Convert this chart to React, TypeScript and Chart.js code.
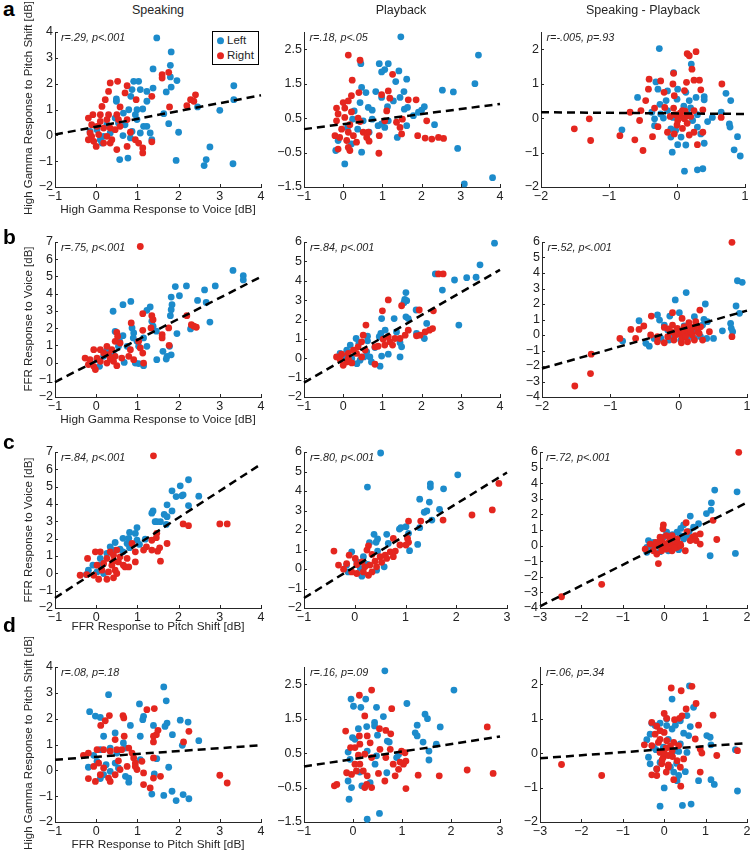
import React, { useEffect, useRef } from 'react';
import { Chart, registerables } from 'chart.js';
Chart.register(...registerables);

const BLUE = '#1c8bcb';
const RED = '#e4261f';
const INK = '#262626';
const FONT = '"Liberation Sans", Arial, sans-serif';

// ---------- tick values ----------
const xTicksWide = [-1, 0, 1, 2, 3, 4];
const xTicksShort = [-1, 0, 1, 2, 3];
const xTicksDiffA = [-2, -1, 0, 1];
const xTicksDiffB = [-3, -2, -1, 0, 1, 2];
const yTicksHG = [-2, -1, 0, 1, 2, 3, 4];
const yTicksHGPlay = [-1.5, -0.5, 0.5, 1.5, 2.5];
const yTicksHGDiff = [-2, -1, 0, 1, 2];
const yTicksFFR7 = [-2, -1, 0, 1, 2, 3, 4, 5, 6, 7];
const yTicksFFR6 = [-2, -1, 0, 1, 2, 3, 4, 5, 6];
const yTicksFFRDiff = [-4, -3, -2, -1, 0, 1, 2, 3, 4, 5, 6];

const columnTitles = ['Speaking', 'Playback', 'Speaking - Playback'];
const rowLetters = ['a', 'b', 'c', 'd'];
const xTitles = ['High Gamma Response to Voice [dB]', 'High Gamma Response to Voice [dB]', 'FFR Response to Pitch Shift [dB]', 'FFR Response to Pitch Shift [dB]'];
const yTitles = ['High Gamma Response to Pitch Shift [dB]', 'FFR Response to Voice [dB]', 'FFR Response to Voice [dB]', 'High Gamma Response to Pitch Shift [dB]'];
const statLabels = [
  'r=.29, p<.001', 'r=.18, p<.05', 'r=-.005, p=.93',
  'r=.75, p<.001', 'r=.84, p<.001', 'r=.52, p<.001',
  'r=.84, p<.001', 'r=.80, p<.001', 'r=.72, p<.001',
  'r=.08, p=.18', 'r=.16, p=.09', 'r=.06, p=.34',
];

// ---------- row a ----------
const a1Left = [[1.47,3.77],[1.82,3.23],[1.80,2.71],[1.38,2.57],[1.80,2.26],[1.96,2.12],[1.82,1.87],[1.70,1.68],[1.38,1.83],[3.34,1.92],[3.34,1.38],[3.0,0.97],[2.46,1.10],[2.00,0.12],[1.94,-0.97],[2.76,-0.45],[2.67,-0.94],[2.62,-1.17],[3.32,-1.10],[1.76,0.45],[1.64,0.84],[1.03,2.09],[0.91,2.09],[0.87,1.77],[1.07,1.77],[0.49,1.41],[0.49,1.32],[0.84,1.51],[1.23,1.70],[1.23,1.32],[1.13,1.02],[0.99,0.99],[0.79,0.99],[0.66,0.86],[0.46,0.67],[0.54,0.48],[0.70,0.41],[0.87,0.15],[1.07,0.09],[1.23,0.35],[1.35,-0.17],[1.31,0.09],[0.34,0.09],[0.18,-0.04],[0.02,0.22],[-0.15,0.15],[0.10,-0.17],[0.26,0.41],[0.65,-0.01],[0.83,-0.10],[0.77,-0.88],[0.57,-0.94],[0.95,0.80],[1.15,0.35],[0.99,0.61],[0.14,-0.30]];
const a1Right = [[1.76,2.44],[1.60,2.35],[1.60,2.22],[1.35,1.51],[1.78,1.10],[2.41,1.57],[2.29,1.38],[2.37,1.32],[2.20,1.15],[0.52,2.09],[0.34,2.03],[0.75,1.92],[0.30,1.70],[0.70,1.64],[0.97,1.38],[0.22,1.38],[0.14,1.12],[0.58,1.10],[-0.19,0.67],[-0.08,0.80],[0.10,0.80],[0.30,0.80],[0.50,0.80],[0.54,0.61],[0.10,0.54],[0.26,0.61],[-0.11,0.41],[0.02,0.35],[0.18,0.28],[0.34,0.28],[0.46,0.22],[-0.11,-0.04],[0.06,0.03],[0.26,-0.04],[-0.06,-0.23],[0.0,-0.43],[0.18,-0.30],[0.38,-0.17],[0.50,-0.55],[0.75,-0.43],[0.95,-0.17],[1.03,-0.30],[1.13,-0.49],[1.13,-0.68],[1.35,-0.25],[0.83,0.12],[0.34,-0.30],[-0.19,-0.17],[-0.15,0.09],[0.58,0.35],[0.75,0.61]];
const a1Fit = [[-1,0.03],[4,1.55]];

const a2Left = [[1.47,2.86],[3.45,2.33],[3.36,1.50],[0.45,2.08],[0.92,2.08],[1.15,2.08],[1.06,1.91],[0.98,1.84],[1.42,1.87],[1.34,1.56],[1.62,1.63],[0.83,1.27],[0.58,1.24],[0.47,1.39],[0.98,1.10],[1.28,1.00],[1.45,1.10],[1.55,1.27],[2.53,1.31],[2.81,1.26],[0.43,0.95],[0.64,0.81],[0.74,0.73],[1.13,0.83],[1.56,0.76],[1.64,0.81],[2.07,0.83],[2.00,0.73],[1.92,0.67],[1.79,0.57],[2.33,0.31],[1.62,0.28],[1.38,-0.06],[2.92,-0.38],[3.09,-1.41],[3.81,-1.23],[0.04,-0.83],[-0.19,-0.44],[0.21,-0.25],[0.47,-0.49],[0.28,0.71],[0.24,0.47],[0.51,0.42],[0.74,0.47],[0.89,0.28],[1.06,0.23],[0.37,0.18],[0.11,0.23],[0.66,0.09],[-0.13,-0.15],[0.98,0.33],[1.15,0.42]];
const a2Right = [[0.13,2.33],[0.43,2.18],[0.23,1.60],[0.40,1.24],[0.21,1.15],[0.13,1.00],[0.0,0.95],[-0.17,0.79],[0.04,0.79],[0.21,0.68],[-0.13,0.62],[0.04,0.52],[-0.17,0.42],[0.38,0.50],[0.43,0.40],[0.17,0.31],[-0.04,0.18],[0.13,0.09],[-0.21,-0.01],[-0.09,-0.06],[0.09,-0.15],[0.26,-0.01],[0.34,-0.20],[-0.13,-0.40],[0.13,-0.35],[0.17,-0.44],[0.64,0.09],[0.60,-0.06],[0.51,0.09],[0.98,1.18],[1.15,1.29],[1.26,1.77],[1.19,1.08],[1.66,1.03],[1.86,1.03],[0.92,-0.01],[1.06,0.42],[1.11,0.71],[1.36,0.38],[1.45,0.23],[1.51,0.47],[1.49,0.04],[0.91,-0.52],[1.90,-0.01],[2.09,-0.08],[2.26,-0.11],[2.43,-0.06],[2.56,-0.09],[2.13,0.42],[0.66,-0.17]];
const a2Fit = [[-1,0.18],[4,0.91]];

const a3Left = [[-0.26,2.02],[0.21,1.57],[-0.05,1.32],[-0.31,1.05],[-0.58,0.60],[-0.28,0.84],[-0.14,0.79],[0.01,0.84],[0.13,0.75],[0.28,0.60],[0.40,0.62],[0.40,0.53],[0.72,0.72],[0.79,0.51],[0.65,0.17],[0.52,0.02],[0.77,-0.17],[0.78,-0.26],[0.89,-0.54],[0.84,-0.92],[0.93,-1.10],[0.30,-0.26],[0.35,-0.46],[0.40,-0.73],[0.30,-1.50],[0.38,-1.47],[0.11,-1.54],[-0.07,-0.99],[0.01,-0.77],[0.13,-0.78],[-0.09,-0.55],[0.06,-0.55],[-0.81,-0.34],[-0.37,0.17],[-0.33,-0.02],[-0.24,0.12],[-0.14,0.22],[-0.06,0.02],[0.16,0.12],[0.23,-0.07],[0.18,0.51],[-0.16,0.51],[-0.09,-0.31],[-0.33,-0.22],[-0.20,0.00],[0.30,0.10],[0.10,0.35],[-0.25,0.40],[0.00,0.55],[0.20,0.30],[0.45,-0.10],[-0.02,-0.35]];
const a3Right = [[0.15,1.87],[0.18,1.81],[0.28,1.93],[0.22,1.42],[-0.05,1.30],[-0.41,1.13],[-0.24,1.08],[-0.06,0.99],[0.14,1.04],[0.25,1.10],[0.33,1.10],[0.66,0.99],[-0.42,0.84],[-0.19,0.75],[-0.04,0.65],[0.11,0.80],[0.35,0.82],[-0.46,0.51],[-0.33,0.29],[-0.18,0.31],[-0.05,0.29],[0.08,0.22],[0.25,0.22],[0.38,0.24],[0.65,0.02],[-0.69,0.17],[-0.53,0.22],[-0.55,-0.07],[0.05,0.07],[0.01,-0.07],[0.11,-0.02],[0.16,0.07],[-0.28,-0.25],[-0.14,-0.41],[-0.04,-0.46],[0.18,-0.49],[0.25,-0.41],[-0.36,-0.54],[-1.51,-0.31],[-1.29,-0.02],[-1.27,-0.65],[-0.84,-0.51],[-0.62,-0.63],[-0.50,-0.94],[0.30,-0.77],[0.38,-0.41],[0.05,0.15],[0.10,0.00],[-0.02,0.10],[0.12,0.20],[0.20,0.05],[-0.10,0.05],[0.00,-0.20],[0.08,-0.30],[0.15,-0.15]];
const a3Fit = [[-2,0.17],[1,0.12]];

// ---------- row b ----------
const b1Left = [[3.32,5.35],[3.57,5.04],[3.57,4.80],[2.89,4.45],[2.63,4.22],[2.19,4.45],[1.92,4.41],[2.02,3.88],[1.82,3.80],[0.84,3.55],[0.65,3.36],[0.41,2.98],[1.31,3.23],[1.23,3.03],[1.84,3.36],[1.82,3.07],[1.80,2.72],[2.46,3.61],[2.67,3.49],[2.76,2.35],[2.29,1.95],[1.96,1.68],[1.35,2.40],[1.38,2.11],[1.46,1.82],[0.87,2.01],[0.91,1.72],[0.90,1.43],[0.99,1.23],[1.15,1.43],[1.03,0.94],[1.23,0.94],[0.65,1.56],[0.46,1.81],[0.57,1.23],[0.75,0.94],[1.78,0.94],[1.62,0.65],[1.72,0.36],[1.82,0.45],[1.70,0.20],[1.47,0.17],[0.95,-0.03],[1.03,-0.06],[1.15,-0.18],[0.68,0.01],[0.26,0.75],[0.18,0.36],[0.02,0.17],[0.08,-0.22],[0.42,0.46],[0.54,0.94]];
const b1Right = [[1.07,6.74],[1.13,2.84],[1.35,2.72],[2.20,2.72],[2.31,2.20],[2.37,2.11],[2.43,2.05],[0.85,2.30],[0.50,1.75],[0.52,1.52],[1.76,2.01],[1.60,1.62],[1.60,1.43],[1.13,1.87],[1.33,2.01],[1.38,2.49],[1.77,1.00],[1.03,1.23],[1.07,0.85],[0.83,0.75],[0.58,1.13],[0.46,1.23],[0.38,0.75],[0.26,0.94],[0.10,0.75],[-0.06,0.75],[0.18,0.56],[0.30,0.46],[0.46,0.36],[0.62,0.26],[0.02,0.26],[-0.15,0.17],[0.10,0.07],[0.26,-0.03],[-0.19,-0.12],[-0.06,-0.22],[-0.02,-0.41],[0.50,-0.18],[1.15,-0.03],[1.13,0.55],[0.42,0.07],[0.79,0.36],[0.91,0.17],[0.34,0.20],[-0.27,0.26]];
const b1Fit = [[-1,-1.13],[4,4.98]];

const b2Left = [[3.86,5.94],[3.49,4.82],[3.39,4.18],[3.15,4.16],[2.84,4.04],[2.35,4.35],[2.53,3.52],[2.95,1.71],[1.60,3.39],[1.57,3.04],[1.62,2.97],[1.55,2.87],[1.30,2.05],[1.60,2.14],[1.66,2.05],[1.86,2.49],[0.98,2.05],[0.96,1.28],[1.07,1.45],[1.36,1.36],[0.92,1.11],[0.62,1.14],[0.62,0.90],[0.33,1.02],[0.40,0.77],[0.18,0.68],[0.09,0.42],[-0.08,0.25],[0.05,0.07],[0.22,-0.01],[0.43,-0.10],[0.53,0.07],[0.68,0.07],[0.60,0.33],[0.72,-0.19],[0.94,-0.41],[0.98,0.11],[1.15,0.21],[1.45,0.07],[1.49,0.59],[1.45,0.80],[1.87,1.28],[2.07,1.02],[2.13,1.80],[0.81,0.55],[0.35,-0.28]];
const b2Right = [[2.43,4.35],[2.55,4.35],[1.15,3.01],[1.49,2.71],[1.00,2.45],[1.94,2.49],[2.30,2.45],[2.28,1.53],[2.20,1.45],[2.09,1.36],[1.87,1.16],[1.96,1.19],[1.66,1.45],[1.58,1.19],[1.45,1.02],[1.32,1.02],[0.58,1.71],[0.51,1.19],[1.15,1.11],[1.02,0.98],[1.19,0.85],[1.26,0.68],[1.06,0.68],[0.89,0.62],[0.81,0.59],[0.47,0.85],[0.38,0.59],[0.56,0.42],[0.26,0.42],[0.34,0.25],[0.13,0.25],[-0.04,0.21],[-0.17,0.07],[-0.08,-0.07],[0.09,-0.19],[0.22,-0.24],[0.00,-0.36],[0.47,0.07],[0.81,-0.31],[0.13,-0.01]];
const b2Fit = [[-1,-1.26],[4,4.56]];

const b3Left = [[0.86,3.50],[0.93,3.40],[0.11,2.74],[-0.05,2.26],[0.39,2.00],[0.84,1.87],[0.89,1.40],[0.76,0.75],[0.77,0.43],[0.79,0.21],[0.64,0.27],[0.01,1.44],[-0.13,1.22],[-0.31,1.29],[-0.28,0.96],[-0.58,0.92],[0.23,1.18],[0.37,1.01],[0.42,0.86],[-0.82,-0.39],[-0.48,-0.54],[-0.43,-0.72],[-0.36,-0.22],[-0.26,-0.22],[-0.14,-0.33],[-0.07,-0.11],[0.03,-0.33],[0.13,-0.22],[0.23,-0.22],[0.32,-0.11],[0.41,-0.22],[0.51,-0.22],[0.35,0.64],[0.08,0.58],[-0.21,0.64],[-0.16,0.32],[0.20,0.32]];
const b3Right = [[0.78,5.98],[-1.52,-3.29],[-1.29,-2.49],[-1.28,-1.24],[-0.86,-0.22],[-0.70,0.36],[-0.63,-0.22],[-0.58,0.36],[-0.51,0.58],[-0.40,1.22],[-0.31,-0.44],[-0.41,0.0],[-0.09,1.44],[0.05,1.07],[0.31,1.61],[0.45,0.21],[0.78,-0.11],[-0.21,0.49],[-0.09,0.64],[-0.02,0.43],[0.08,0.53],[0.15,0.64],[0.25,0.86],[0.32,0.53],[-0.11,0.21],[-0.02,0.06],[0.05,0.10],[0.13,0.15],[0.20,0.0],[0.28,0.21],[-0.16,-0.11],[-0.07,-0.33],[0.04,-0.50],[0.13,-0.44],[0.23,-0.33],[0.35,-0.33],[-0.21,-0.50],[-0.31,-0.11],[0.20,0.49],[0.00,0.30],[0.10,0.40],[0.18,0.25],[-0.05,0.00],[0.05,-0.20],[0.25,0.60],[0.15,0.80],[-0.15,0.40],[0.30,0.10],[0.10,-0.10]];
const b3Fit = [[-2,-2.16],[1,1.57]];

// ---------- row c ----------
const c1Left = [[2.24,5.40],[2.04,5.05],[2.11,4.53],[2.08,4.47],[1.84,4.76],[2.49,4.45],[2.24,3.91],[1.94,4.43],[1.72,3.95],[1.38,3.60],[1.35,3.47],[1.43,2.98],[1.47,2.98],[1.56,2.98],[1.65,3.40],[1.72,3.27],[1.84,3.60],[1.70,2.82],[0.99,2.64],[0.95,2.30],[0.81,2.36],[0.79,2.02],[0.65,2.02],[0.46,1.78],[0.75,1.72],[0.34,1.53],[0.99,1.91],[0.58,1.40],[0.46,1.34],[0.26,1.15],[0.10,0.86],[-0.19,0.18],[-0.08,0.47],[0.10,0.47],[-0.24,-0.07],[0.02,0.08],[0.18,-0.01],[0.65,1.24],[1.05,1.67],[1.19,1.97],[0.81,1.48]];
const c1Right = [[1.39,6.78],[2.11,2.85],[2.24,2.75],[3.00,2.85],[3.18,2.85],[1.47,2.31],[1.46,2.06],[1.35,1.91],[1.72,1.72],[1.54,1.47],[1.49,1.28],[1.56,0.70],[1.22,1.53],[1.15,1.34],[1.35,1.34],[0.87,1.72],[0.95,1.24],[0.95,0.66],[0.50,1.34],[0.34,1.24],[0.10,1.24],[-0.02,1.24],[-0.21,0.86],[0.26,0.86],[0.42,1.05],[0.58,0.95],[0.75,0.86],[0.54,0.66],[0.66,0.47],[0.38,0.47],[0.18,0.57],[0.02,0.47],[0.14,0.18],[0.30,0.08],[0.46,0.18],[-0.39,-0.11],[-0.23,-0.07],[-0.06,-0.11],[0.06,-0.34],[0.26,-0.34],[0.42,-0.26],[0.50,-0.01],[0.70,0.37],[0.79,0.37],[0.42,0.70]];
const c1Fit = [[-1,-1.42],[4,6.3]];

const c2Left = [[0.51,5.95],[0.25,4.20],[2.03,4.83],[1.49,4.37],[1.49,4.20],[1.75,4.11],[1.28,3.58],[1.47,3.43],[1.42,2.98],[1.37,2.91],[1.67,3.06],[1.52,2.51],[0.91,2.12],[0.88,2.05],[1.01,2.17],[1.28,2.12],[1.06,1.83],[0.63,1.78],[0.38,1.78],[0.45,1.54],[0.42,1.37],[0.29,1.35],[0.45,0.92],[1.24,1.26],[1.08,0.94],[0.66,1.31],[-0.06,0.88],[0.17,0.63],[0.04,0.37],[-0.16,0.20],[0.11,0.03],[0.43,-0.06],[0.14,-0.37],[0.58,0.11],[0.25,0.23],[-0.13,-0.15]];
const c2Right = [[2.84,4.39],[2.31,2.77],[2.71,3.03],[1.74,2.51],[1.30,2.46],[1.06,2.46],[1.04,1.57],[1.06,1.37],[1.01,1.23],[0.89,1.23],[0.76,1.57],[-0.41,0.92],[-0.32,0.20],[-0.16,0.28],[-0.11,0.71],[0.01,0.54],[0.04,0.23],[0.14,0.37],[0.20,0.11],[0.30,0.20],[0.40,0.40],[0.50,0.63],[0.60,0.71],[0.70,0.88],[0.80,0.92],[0.63,0.54],[0.76,0.63],[0.53,0.34],[0.27,1.19],[0.34,0.75],[-0.06,-0.15],[0.04,-0.23],[0.27,-0.32],[0.34,-0.15],[0.43,0.11],[0.17,-0.15],[-0.22,-0.01],[0.24,0.97]];
const c2Fit = [[-1,-1.49],[3,4.95]];

const c3Left = [[1.22,3.56],[1.76,3.45],[1.14,2.74],[1.13,2.27],[1.02,2.05],[0.63,1.89],[0.83,1.40],[0.47,1.33],[0.71,1.18],[1.72,-0.50],[1.11,-0.65],[0.06,0.86],[0.31,0.86],[0.39,0.64],[0.55,0.64],[-0.38,0.32],[-0.26,0.21],[-0.10,0.32],[-0.02,0.54],[0.15,0.43],[0.27,0.32],[0.47,0.43],[-0.42,-0.11],[-0.30,-0.22],[-0.10,-0.39],[0.10,-0.33],[0.35,-0.26],[0.23,0.0],[-0.42,-0.43],[0.40,1.10],[0.20,0.70],[0.60,0.90]];
const c3Right = [[1.80,5.98],[1.18,1.62],[1.27,0.39],[0.87,0.10],[0.87,0.75],[0.77,0.32],[0.69,0.54],[0.53,1.47],[-0.02,1.33],[-0.03,1.08],[-0.14,-1.15],[-1.51,-2.48],[-2.48,-3.28],[-0.46,-0.22],[-0.34,0.10],[-0.22,0.0],[-0.26,-0.33],[-0.18,-0.54],[-0.06,0.32],[0.05,0.64],[0.10,0.10],[0.19,0.64],[0.31,0.43],[0.39,0.10],[0.51,-0.33],[0.31,-0.11],[0.19,-0.33],[0.06,-0.22],[-0.06,-0.33],[0.55,0.90],[0.63,0.32],[0.75,0.64],[-0.10,0.54],[0.00,0.10],[0.10,0.20],[0.20,0.00],[-0.10,0.00],[0.15,0.35],[0.30,0.20],[0.05,-0.10],[-0.20,0.20],[0.25,-0.15],[0.40,0.00]];
const c3Fit = [[-3,-3.89],[2,2.76]];

// ---------- row d ----------
const d1Left = [[1.64,3.23],[0.30,2.93],[1.70,2.69],[1.05,2.57],[-0.16,2.27],[-0.02,2.10],[0.10,2.05],[1.15,2.09],[1.13,1.96],[2.04,1.94],[2.23,1.87],[1.72,1.83],[1.67,1.70],[1.39,1.74],[0.83,1.74],[1.85,1.38],[1.07,1.32],[0.46,1.45],[0.18,1.32],[2.49,1.15],[2.09,0.97],[0.10,0.80],[0.34,0.86],[0.66,1.06],[0.71,0.86],[0.50,0.67],[-0.06,0.58],[-0.19,0.12],[0.02,0.35],[0.24,0.22],[0.46,0.28],[1.07,0.41],[1.47,0.45],[1.76,0.12],[1.41,-0.14],[0.10,-0.32],[0.71,-0.23],[0.79,-0.30],[0.79,-0.46],[1.35,-0.92],[1.64,-0.97],[1.84,-0.81],[1.94,-1.17],[2.11,-0.94],[2.25,-1.10],[0.34,-0.04],[0.18,-0.17],[0.54,0.09]];
const d1Right = [[1.23,2.35],[1.41,2.39],[0.32,2.12],[0.65,2.12],[0.67,2.03],[0.22,1.92],[0.11,1.74],[1.50,1.55],[1.46,1.38],[1.39,1.32],[2.25,1.51],[2.12,1.10],[1.39,1.10],[0.46,1.19],[0.68,1.32],[-0.31,0.58],[-0.19,0.67],[0.02,0.80],[0.18,0.80],[0.34,0.74],[0.50,0.80],[0.62,0.80],[0.79,0.86],[0.87,0.67],[0.91,0.48],[0.95,0.28],[1.11,0.35],[0.99,0.03],[0.95,0.15],[1.39,0.48],[1.39,-0.30],[1.56,-0.23],[1.15,-0.10],[1.15,-0.55],[1.31,-0.68],[-0.19,-0.32],[-0.02,-0.43],[0.10,-0.17],[0.18,0.09],[0.30,-0.30],[0.34,-0.43],[0.46,-0.17],[0.54,0.37],[0.58,0.03],[-0.06,0.15],[0.06,0.28],[3.00,-0.19],[3.18,-0.49],[0.75,0.15]];
const d1Fit = [[-1,0.41],[4,0.97]];

const d2Left = [[0.65,2.89],[2.06,2.33],[-0.04,2.07],[0.26,2.07],[0.01,1.86],[0.16,1.83],[0.48,1.83],[1.10,1.94],[0.62,1.56],[1.47,1.63],[1.52,1.50],[1.78,1.26],[1.31,1.31],[1.27,1.09],[1.31,1.00],[1.43,0.82],[1.70,0.76],[1.55,0.56],[1.55,0.30],[0.44,1.39],[0.44,1.29],[0.28,1.27],[0.11,1.21],[0.50,1.02],[0.70,0.85],[0.74,0.82],[-0.01,0.95],[0.04,0.90],[-0.10,0.53],[-0.06,0.32],[0.29,0.56],[0.48,0.42],[0.89,0.37],[0.93,0.46],[0.69,-0.07],[-0.10,-0.31],[-0.03,-0.50],[0.18,-0.45],[0.35,-0.36],[-0.08,-0.84],[0.54,-1.25],[0.29,-1.42],[0.14,-0.05],[0.45,0.18]];
const d2Right = [[0.38,2.33],[0.13,2.18],[0.24,1.58],[-0.15,1.14],[0.13,1.00],[0.29,1.00],[0.54,1.21],[0.67,1.16],[0.79,1.79],[0.77,1.06],[0.14,0.76],[0.35,0.80],[-0.05,0.66],[0.04,0.66],[0.11,0.44],[0.24,0.47],[0.38,0.37],[0.55,0.61],[0.76,0.61],[0.67,0.37],[0.82,0.18],[0.99,0.56],[1.06,0.51],[1.08,0.27],[1.03,0.18],[0.93,0.03],[0.04,0.18],[0.14,0.18],[-0.13,-0.07],[-0.03,-0.12],[0.07,-0.02],[0.21,-0.02],[0.29,-0.16],[0.52,-0.09],[0.65,-0.31],[0.86,-0.16],[0.28,-0.41],[0.38,-0.50],[0.24,-0.50],[-0.33,-0.41],[-0.38,-0.45],[1.08,-0.53],[1.33,-0.14],[1.76,-0.16],[2.33,0.01],[2.86,-0.09],[2.74,1.26],[0.96,0.24]];
const d2Fit = [[-1,0.11],[3,0.98]];

const d3Left = [[0.61,1.95],[0.19,1.57],[0.71,1.33],[0.55,1.09],[0.39,0.94],[0.27,0.81],[0.19,0.70],[0.63,0.77],[0.59,0.51],[0.47,0.58],[1.03,0.51],[1.11,0.46],[1.13,0.24],[-0.42,0.39],[-0.34,0.55],[-0.22,0.80],[-0.30,0.87],[-0.10,0.87],[0.06,0.99],[0.06,0.80],[1.72,0.10],[-0.38,-0.12],[-0.34,-0.31],[-0.18,-0.46],[-0.10,-0.27],[0.15,-0.41],[0.23,-0.55],[0.35,-0.65],[0.51,-0.54],[0.31,-0.80],[0.83,-0.80],[1.13,-0.77],[1.21,-0.91],[1.77,-1.10],[0.0,-1.01],[-0.10,-1.54],[0.44,-1.52],[0.65,-1.48],[-0.26,0.17],[-0.02,0.17],[0.23,0.07],[0.39,0.27],[0.55,0.02],[0.10,0.40],[-0.20,0.10],[0.30,-0.30],[0.35,0.05]];
const d3Right = [[0.17,1.89],[0.41,1.81],[0.67,1.94],[0.77,1.44],[1.18,1.10],[0.53,1.28],[0.43,1.08],[0.37,1.01],[0.0,1.15],[0.06,1.01],[0.25,0.97],[-0.30,0.89],[-0.18,0.78],[-0.10,0.65],[-0.22,0.55],[0.83,0.81],[0.75,0.41],[0.87,0.12],[0.91,0.0],[1.27,-0.07],[1.77,0.07],[-0.48,0.24],[-0.30,0.22],[-0.14,0.31],[0.06,0.36],[0.23,0.31],[0.35,0.22],[-0.10,0.02],[-0.02,-0.12],[0.10,-0.07],[0.19,0.07],[0.31,-0.22],[0.39,-0.41],[0.47,-0.17],[-0.06,-0.31],[-0.18,-0.46],[-0.30,-0.63],[-0.18,-0.65],[0.23,-0.77],[0.40,-0.96],[0.87,-0.55],[-2.48,-0.33],[-1.51,-0.65],[0.10,-0.34],[0.00,0.00],[0.05,0.15],[-0.05,-0.20],[0.10,-0.40],[0.15,0.20],[-0.10,0.40],[0.00,0.60],[0.20,-0.10],[0.05,-0.55]];
const d3Fit = [[-3,-0.15],[2,0.29]];

// ---------- panel table (built from arrays above) ----------
type Pt = number[];
interface Panel {
  left: Pt[]; right: Pt[]; fit: Pt[];
  xMin: number; xMax: number; yMin: number; yMax: number;
  xTicks: number[]; yTicks: number[];
  box: number[]; // plot area: left, top, right, bottom (px)
}
const rowTop = [32, 242, 452, 667];
const rowBottom = [187, 397, 607.5, 822];
const box = (l: number, r: number, row: number) => [l, rowTop[row], r, rowBottom[row]];

const panels: Panel[] = [
  { left: a1Left, right: a1Right, fit: a1Fit, xMin: -1, xMax: 4, yMin: -2, yMax: 4, xTicks: xTicksWide, yTicks: yTicksHG, box: box(55, 261, 0) },
  { left: a2Left, right: a2Right, fit: a2Fit, xMin: -1, xMax: 4, yMin: -1.5, yMax: 3, xTicks: xTicksWide, yTicks: yTicksHGPlay, box: box(303.5, 499, 0) },
  { left: a3Left, right: a3Right, fit: a3Fit, xMin: -2, xMax: 1, yMin: -2, yMax: 2.5, xTicks: xTicksDiffA, yTicks: yTicksHGDiff, box: box(540.5, 744.5, 0) },
  { left: b1Left, right: b1Right, fit: b1Fit, xMin: -1, xMax: 4, yMin: -2, yMax: 7, xTicks: xTicksWide, yTicks: yTicksFFR7, box: box(55, 261, 1) },
  { left: b2Left, right: b2Right, fit: b2Fit, xMin: -1, xMax: 4, yMin: -2, yMax: 6, xTicks: xTicksWide, yTicks: yTicksFFR6, box: box(304, 500, 1) },
  { left: b3Left, right: b3Right, fit: b3Fit, xMin: -2, xMax: 1, yMin: -4, yMax: 6, xTicks: xTicksDiffA, yTicks: yTicksFFRDiff, box: box(541.5, 746, 1) },
  { left: c1Left, right: c1Right, fit: c1Fit, xMin: -1, xMax: 4, yMin: -2, yMax: 7, xTicks: xTicksWide, yTicks: yTicksFFR7, box: box(55, 261, 2) },
  { left: c2Left, right: c2Right, fit: c2Fit, xMin: -1, xMax: 3, yMin: -2, yMax: 6, xTicks: xTicksShort, yTicks: yTicksFFR6, box: box(304, 507, 2) },
  { left: c3Left, right: c3Right, fit: c3Fit, xMin: -3, xMax: 2, yMin: -4, yMax: 6, xTicks: xTicksDiffB, yTicks: yTicksFFRDiff, box: box(540, 746.5, 2) },
  { left: d1Left, right: d1Right, fit: d1Fit, xMin: -1, xMax: 4, yMin: -2, yMax: 4, xTicks: xTicksWide, yTicks: yTicksHG, box: box(55, 261, 3) },
  { left: d2Left, right: d2Right, fit: d2Fit, xMin: -1, xMax: 3, yMin: -1.5, yMax: 3, xTicks: xTicksShort, yTicks: yTicksHGPlay, box: box(304, 500, 3) },
  { left: d3Left, right: d3Right, fit: d3Fit, xMin: -3, xMax: 2, yMin: -2, yMax: 2.5, xTicks: xTicksDiffB, yTicks: yTicksHGDiff, box: box(540, 746.5, 3) },
];

const PAD_L = 40, PAD_T = 10, PAD_R = 12, PAD_B = 22;

const fmt = (v: number) => (v < 0 ? '\u2212' + String(Math.abs(v)) : String(v));
const toXY = (arr: Pt[]) => arr.map(([x, y]) => ({ x, y }));

const inwardTicks = {
  id: 'inwardTicks',
  afterDatasetsDraw(chart: any) {
    const { ctx, chartArea, scales } = chart;
    ctx.save();
    ctx.strokeStyle = INK;
    ctx.lineWidth = 1;
    for (const t of scales.x.ticks) {
      const px = Math.round(scales.x.getPixelForValue(t.value)) + 0.5;
      ctx.beginPath(); ctx.moveTo(px, chartArea.bottom); ctx.lineTo(px, chartArea.bottom - 3); ctx.stroke();
    }
    for (const t of scales.y.ticks) {
      const py = Math.round(scales.y.getPixelForValue(t.value)) + 0.5;
      ctx.beginPath(); ctx.moveTo(chartArea.left, py); ctx.lineTo(chartArea.left + 3, py); ctx.stroke();
    }
    ctx.restore();
  },
};

function canvasRect(p: Panel) {
  const [l, t, r, b] = p.box;
  const left = Math.round(l) - PAD_L;
  const top = Math.round(t) - PAD_T;
  const width = Math.round(r - l) + PAD_L + PAD_R;
  const height = Math.round(b - t) + PAD_T + PAD_B;
  return { left, top, width, height };
}

export default function App() {
  const refs = useRef<(HTMLCanvasElement | null)[]>([]);

  useEffect(() => {
    const charts = panels.map((p, i) => {
      const canvas = refs.current[i]!;
      const scaleCommon = (min: number, max: number, ticks: number[], axis: 'x' | 'y') => ({
        type: 'linear' as const,
        min, max,
        grid: { display: false, drawTicks: false },
        border: { display: true, color: INK, width: 1 },
        afterBuildTicks: (s: any) => { s.ticks = ticks.map((v) => ({ value: v })); },
        afterFit: (s: any) => { if (axis === 'y') s.width = PAD_L; else s.height = PAD_B; },
        ticks: {
          color: '#222',
          padding: 2,
          font: { family: FONT, size: 12.5 },
          callback: (v: any) => fmt(Number(v)),
          maxRotation: 0,
          autoSkip: false,
        },
      });
      return new Chart(canvas, {
        type: 'scatter',
        data: {
          datasets: [
            { data: toXY(p.fit), showLine: true, borderColor: '#000', borderWidth: 2.5, borderDash: [8, 5], pointRadius: 0, fill: false, clip: false } as any,
            { data: toXY(p.right), backgroundColor: RED, borderWidth: 0, pointRadius: 3.4, clip: false } as any,
            { data: toXY(p.left), backgroundColor: BLUE, borderWidth: 0, pointRadius: 3.4, clip: false } as any,
          ],
        },
        options: {
          responsive: false,
          animation: false,
          devicePixelRatio: 1,
          layout: { padding: { top: PAD_T, right: PAD_R, left: 0, bottom: 0 } },
          plugins: { legend: { display: false }, tooltip: { enabled: false }, title: { display: false } },
          events: [],
          scales: {
            x: scaleCommon(p.xMin, p.xMax, p.xTicks, 'x'),
            y: scaleCommon(p.yMin, p.yMax, p.yTicks, 'y'),
          },
        } as any,
        plugins: [inwardTicks],
      });
    });
    return () => charts.forEach((c) => c.destroy());
  }, []);

  const textBase: React.CSSProperties = { position: 'absolute', fontFamily: FONT, color: '#262626', whiteSpace: 'nowrap', lineHeight: 1 };
  const colCenters = [158, 401, 643];
  const letterY = [8, 236, 441, 624];
  const xTitleY = [210, 420, 627, 845];
  const yTitleY = [108, 319, 530, 743];

  return (
    <div style={{ position: 'relative', width: 750, height: 853, background: '#fff', overflow: 'hidden' }}>
      <style>{'body{margin:0;}'}</style>
      {panels.map((p, i) => {
        const r = canvasRect(p);
        return (
          <canvas
            key={'c' + i}
            ref={(el) => { refs.current[i] = el; }}
            width={r.width}
            height={r.height}
            style={{ position: 'absolute', left: r.left, top: r.top, width: r.width, height: r.height }}
          />
        );
      })}
      {columnTitles.map((t, i) => (
        <div key={'ct' + i} style={{ ...textBase, left: colCenters[i], top: 10, transform: 'translate(-50%,-50%)', fontSize: 12.5 }}>{t}</div>
      ))}
      {rowLetters.map((t, i) => (
        <div key={'rl' + i} style={{ ...textBase, left: 3, top: letterY[i], transform: 'translateY(-50%)', fontSize: 21, fontWeight: 'bold', color: '#000' }}>{t}</div>
      ))}
      {xTitles.map((t, i) => (
        <div key={'xt' + i} style={{ ...textBase, left: 158, top: xTitleY[i], transform: 'translate(-50%,-50%)', fontSize: 11.8 }}>{t}</div>
      ))}
      {yTitles.map((t, i) => (
        <div key={'yt' + i} style={{ ...textBase, left: 29, top: yTitleY[i], transform: 'translate(-50%,-50%) rotate(-90deg)', fontSize: 11.5 }}>{t}</div>
      ))}
      {panels.map((p, i) => (
        <div key={'st' + i} style={{ ...textBase, left: p.box[0] + 6, top: p.box[1] + 4.5, transform: 'translateY(-50%)', fontSize: 10.8, fontStyle: 'italic' }}>{statLabels[i]}</div>
      ))}
      <div style={{ position: 'absolute', left: 212, top: 31, width: 45, height: 32, border: '1px solid #000', background: '#fff', fontFamily: FONT, fontSize: 11.5, color: '#262626' }}>
        {[{ c: BLUE, t: 'Left', y: 9 }, { c: RED, t: 'Right', y: 24 }].map((e) => (
          <div key={e.t} style={{ position: 'absolute', left: 4, top: e.y, transform: 'translateY(-50%)', display: 'flex', alignItems: 'center', lineHeight: 1 }}>
            <span style={{ display: 'inline-block', width: 7, height: 7, borderRadius: 3.5, background: e.c, marginRight: 3 }} />
            <span>{e.t}</span>
          </div>
        ))}
      </div>
    </div>
  );
}
